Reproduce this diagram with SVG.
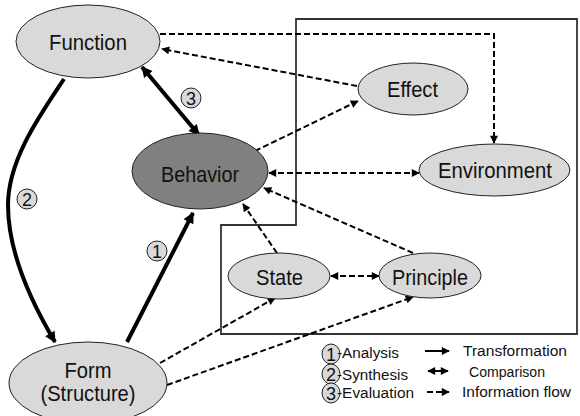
<svg xmlns="http://www.w3.org/2000/svg" width="580" height="416" viewBox="0 0 580 416">
<defs>
<style>
text{font-family:"Liberation Sans",Arial,sans-serif;fill:#111;text-anchor:middle}
.lbl{font-size:22.5px}
.num{font-size:18px}
.leg{font-size:14px;text-anchor:start}
.legr{font-size:15.5px;text-anchor:start}
.node{fill:#d9d9d9;stroke:#222;stroke-width:1}
.dark{fill:#808080;stroke:#222;stroke-width:1}
.circ{fill:#d9d9d9;stroke:#222;stroke-width:1}
.thick{fill:none;stroke:#000;stroke-width:4}
.dash{fill:none;stroke:#000;stroke-width:2;stroke-dasharray:6 3}
.solid{fill:none;stroke:#000;stroke-width:2}
.box{fill:none;stroke:#333;stroke-width:1.8}
</style>
<marker id="big" viewBox="0 0 10 10" refX="9" refY="5" markerWidth="13" markerHeight="11" markerUnits="userSpaceOnUse" orient="auto-start-reverse"><path d="M0,0 L10,5 L0,10 z" fill="#000"/></marker>
<marker id="sm" viewBox="0 0 10 10" refX="9" refY="5" markerWidth="10" markerHeight="8" markerUnits="userSpaceOnUse" orient="auto-start-reverse"><path d="M0,0 L10,5 L0,10 z" fill="#000"/></marker>
</defs>
<rect width="580" height="416" fill="#fff"/>
<path class="box" d="M296,19 L577,19 L577,334 L221,334 L221,225 L296,225 Z"/>
<g id="connectors">
<path class="thick" d="M64,79 C40,115 8,160 8,205 C8,250 30,300 55,342" marker-end="url(#big)"/>
<line class="thick" x1="142" y1="67" x2="199" y2="135" marker-start="url(#big)" marker-end="url(#big)"/>
<line class="thick" x1="127" y1="342" x2="193" y2="213" marker-end="url(#big)"/>
<path class="dash" d="M160,34 L494,34 L494,143" marker-end="url(#sm)"/>
<line class="dash" x1="357" y1="86" x2="162" y2="49" marker-end="url(#sm)"/>
<line class="dash" x1="255" y1="151" x2="358" y2="101" marker-end="url(#sm)"/>
<line class="dash" x1="269" y1="173" x2="419" y2="173" marker-start="url(#sm)" marker-end="url(#sm)"/>
<line class="dash" x1="413" y1="253" x2="264" y2="188" marker-end="url(#sm)"/>
<line class="dash" x1="277" y1="253" x2="243" y2="204" marker-end="url(#sm)"/>
<line class="dash" x1="331" y1="276" x2="379" y2="276" marker-start="url(#sm)" marker-end="url(#sm)"/>
<line class="dash" x1="160" y1="363" x2="275" y2="298" marker-end="url(#sm)"/>
<line class="dash" x1="167" y1="385" x2="413" y2="297" marker-end="url(#sm)"/>
</g>
<g id="function"><ellipse class="node" cx="88" cy="41.5" rx="72" ry="36.5"/><text class="lbl" x="88" y="50" textLength="78" lengthAdjust="spacingAndGlyphs">Function</text></g>
<g id="behavior"><ellipse class="dark" cx="200" cy="171" rx="68" ry="38"/><text class="lbl" x="200" y="182" textLength="78" lengthAdjust="spacingAndGlyphs">Behavior</text></g>
<g id="effect"><ellipse class="node" cx="413" cy="89" rx="55" ry="26"/><text class="lbl" x="412.5" y="97" textLength="51" lengthAdjust="spacingAndGlyphs">Effect</text></g>
<g id="environment"><ellipse class="node" cx="494.5" cy="170" rx="75.5" ry="26"/><text class="lbl" x="495" y="178" textLength="114" lengthAdjust="spacingAndGlyphs">Environment</text></g>
<g id="state"><ellipse class="node" cx="279" cy="276" rx="51" ry="23"/><text class="lbl" x="279.5" y="285" textLength="47" lengthAdjust="spacingAndGlyphs">State</text></g>
<g id="principle"><ellipse class="node" cx="430" cy="275.5" rx="51" ry="22.5"/><text class="lbl" x="430" y="285" textLength="76" lengthAdjust="spacingAndGlyphs">Principle</text></g>
<g id="form"><ellipse class="node" cx="88" cy="383" rx="79" ry="41"/><text class="lbl" x="88" y="378" textLength="47" lengthAdjust="spacingAndGlyphs">Form</text><text class="lbl" x="88" y="401" textLength="95" lengthAdjust="spacingAndGlyphs">(Structure)</text></g>
<g id="step3"><circle class="circ" cx="191" cy="98" r="10"/><text class="num" x="191" y="104.5">3</text></g>
<g id="step2"><circle class="circ" cx="27" cy="199" r="10"/><text class="num" x="27" y="205.5">2</text></g>
<g id="step1"><circle class="circ" cx="157" cy="251" r="10"/><text class="num" x="157" y="257.5">1</text></g>
<g id="legend">
<ellipse class="circ" cx="331" cy="354" rx="9" ry="10"/><text class="num" x="331" y="360.5">1</text>
<ellipse class="circ" cx="331" cy="374" rx="9" ry="10"/><text class="num" x="331" y="380.5">2</text>
<ellipse class="circ" cx="331" cy="393" rx="9" ry="10"/><text class="num" x="331" y="399.5">3</text>
<text class="leg" x="337" y="358" textLength="62" lengthAdjust="spacingAndGlyphs">-Analysis</text>
<text class="leg" x="337" y="380" textLength="71" lengthAdjust="spacingAndGlyphs">-Synthesis</text>
<text class="leg" x="337" y="398" textLength="77" lengthAdjust="spacingAndGlyphs">-Evaluation</text>
<line class="solid" x1="425" y1="351" x2="449" y2="351" marker-end="url(#sm)"/>
<line class="solid" x1="428" y1="371" x2="448" y2="371" stroke-width="2.5" marker-start="url(#sm)" marker-end="url(#sm)"/>
<line class="dash" x1="427" y1="392" x2="449" y2="392" stroke-dasharray="4 3" marker-end="url(#sm)"/>
<text class="legr" x="463" y="356" textLength="104" lengthAdjust="spacingAndGlyphs">Transformation</text>
<text class="legr" x="469" y="377" textLength="76" lengthAdjust="spacingAndGlyphs">Comparison</text>
<text class="legr" x="462" y="397" textLength="109" lengthAdjust="spacingAndGlyphs">Information flow</text>
</g>
</svg>
